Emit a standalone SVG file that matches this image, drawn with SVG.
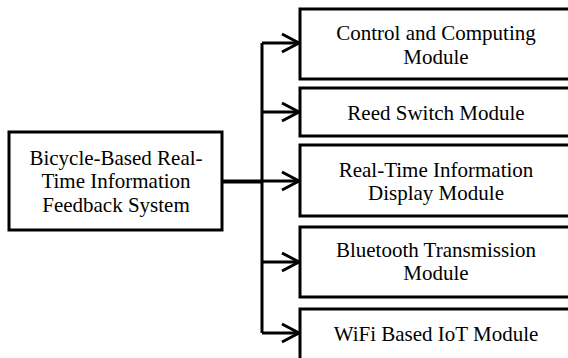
<svg xmlns="http://www.w3.org/2000/svg" width="568" height="358" viewBox="0 0 568 358">
<style>
.box{fill:#fff;stroke:#000;stroke-width:3}
.t{font-family:"Liberation Serif","Times New Roman",serif;font-size:21px;fill:#000;text-anchor:middle}
.ln{fill:none;stroke:#000;stroke-width:3}
</style>
<defs>
<marker id="arr" markerUnits="userSpaceOnUse" markerWidth="24" markerHeight="24" viewBox="-20 -12 24 24" refX="0" refY="0" orient="auto">
<polyline points="-17,-9 0,0 -17,9" fill="none" stroke="#000" stroke-width="3"/>
</marker>
</defs>
<rect width="568" height="358" fill="#fff"/>
<g id="connectors">
<line class="ln" x1="222" y1="181.5" x2="262" y2="181.5" style="stroke-width:4"/>
<line class="ln" x1="262" y1="43" x2="262" y2="333"/>
<line class="ln" x1="262" y1="43" x2="299" y2="43" marker-end="url(#arr)"/>
<line class="ln" x1="262" y1="112" x2="299" y2="112" marker-end="url(#arr)"/>
<line class="ln" x1="262" y1="181" x2="299" y2="181" marker-end="url(#arr)"/>
<line class="ln" x1="262" y1="262" x2="299" y2="262" marker-end="url(#arr)"/>
<line class="ln" x1="262" y1="333" x2="299" y2="333" marker-end="url(#arr)"/>
</g>
<g id="system">
<rect class="box" x="9" y="132" width="213" height="98"/>
<text class="t" x="116" y="165">Bicycle-Based Real-</text>
<text class="t" x="116" y="188">Time Information</text>
<text class="t" x="116" y="211.5">Feedback System</text>
</g>
<g id="control">
<rect class="box" x="300" y="9" width="280" height="70"/>
<text class="t" x="436" y="40">Control and Computing</text>
<text class="t" x="436" y="63.5">Module</text>
</g>
<g id="reed">
<rect class="box" x="300" y="88" width="280" height="48"/>
<text class="t" x="436" y="120">Reed Switch Module</text>
</g>
<g id="display">
<rect class="box" x="300" y="145" width="280" height="71"/>
<text class="t" x="436" y="176.5">Real-Time Information</text>
<text class="t" x="436" y="200">Display Module</text>
</g>
<g id="bluetooth">
<rect class="box" x="300" y="227" width="280" height="70"/>
<text class="t" x="436" y="256.5">Bluetooth Transmission</text>
<text class="t" x="436" y="280">Module</text>
</g>
<g id="wifi">
<rect class="box" x="300" y="309" width="280" height="60"/>
<text class="t" x="436" y="341">WiFi Based IoT Module</text>
</g>
</svg>
